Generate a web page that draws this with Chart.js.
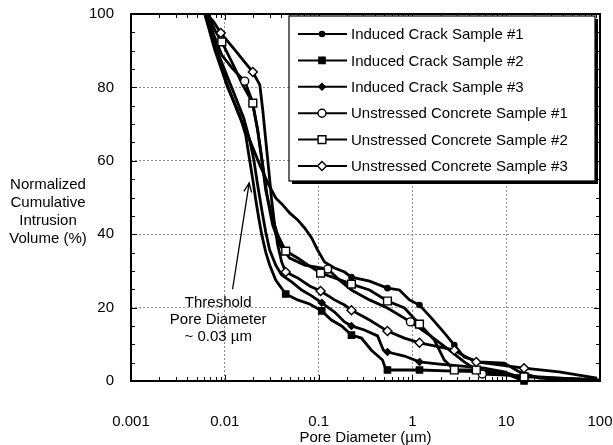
<!DOCTYPE html>
<html lang="en">
<head>
  <meta charset="UTF-8">
  <title>Pore Diameter Distribution</title>
  <script src="https://cdn.jsdelivr.net/npm/chart.js"></script>
  <style>
    html, body { margin: 0; padding: 0; background: #fff; }
  </style>
</head>
<body>
  <canvas id="poreChart" width="613" height="445"></canvas>

  <script>
    // pore diameter (um), normalized cumulative intrusion volume (%)
    const ic1 = [[0.00644,100],[0.00802,91.6],[0.0103,81.7],[0.0137,73.3],[0.0184,65.7],[0.0236,58.9],
      [0.0287,54.0],[0.0349,49.9],[0.0414,48.0],[0.0491,45.8],[0.0598,43.9],[0.0710,41.7],[0.0843,39.0],
      [0.0975,35.7],[0.116,32.4],[0.148,30.8],[0.189,29.7],[0.224,28.3],[0.349,27.2],[0.542,25.3],
      [0.728,24.8],[0.93,22.1],[1.19,20.7],[1.59,17.2],[2.19,13.1],[2.80,9.8],[3.57,6.5],[5.16,5.2],
      [9.52,4.9],[13.7,2.5],[22.4,0.8],[45,0.3]];
    const ic2 = [[0.00612,100],[0.00783,90.2],[0.0108,79.8],[0.0144,72.5],[0.0167,67.0],[0.0184,60.2],
      [0.0199,54.8],[0.0214,49.3],[0.0230,44.4],[0.0248,39.8],[0.0273,35.1],[0.0301,31.6],[0.0349,27.5],
      [0.0446,23.7],[0.0598,22.1],[0.0802,21.0],[0.108,19.1],[0.137,16.6],[0.176,15.0],[0.224,12.5],
      [0.286,11.7],[0.366,8.4],[0.480,5.7],[0.516,3.5],[0.542,3.0],[1.19,3.0],[2.80,2.7],[6.59,2.5],
      [10.8,1.6],[15.5,0]];
    const ic3 = [[0.00628,100],[0.00822,90.2],[0.0119,79.8],[0.0159,71.7],[0.0184,65.7],[0.0204,60.2],
      [0.0224,53.4],[0.0248,46.6],[0.0273,40.6],[0.0301,35.7],[0.0349,31.6],[0.0404,28.9],[0.0516,27.0],
      [0.0660,24.8],[0.0843,23.2],[0.108,21.3],[0.148,18.8],[0.189,16.1],[0.224,15.0],[0.308,13.9],
      [0.425,12.3],[0.491,8.4],[0.542,7.9],[0.822,6.8],[1.19,5.2],[1.94,4.6],[3.16,4.1],[5.83,3.5],
      [9.52,2.5],[17.6,0]];
    const uc1 = [[0.00628,100],[0.00764,94.3],[0.00929,88.8],[0.0119,85.3],[0.0163,81.7],[0.0194,76.6],
      [0.0224,68.4],[0.0254,58.9],[0.0287,49.3],[0.0324,42.5],[0.0385,37.1],[0.0491,33.5],[0.0710,31.6],
      [0.125,30.5],[0.167,27.5],[0.224,24.8],[0.349,22.1],[0.542,19.9],[0.953,16.1],[1.52,12.5],
      [2.48,8.4],[3.57,5.2],[5.56,1.9],[15.5,1.4],[36.6,0.8],[92.9,0.3]];
    const uc2 = [[0.00659,100],[0.00783,95.6],[0.00929,92.4],[0.0119,86.9],[0.0155,80.7],[0.0199,75.7],
      [0.0224,68.4],[0.0248,60.2],[0.0273,52.0],[0.0316,45.2],[0.0366,39.8],[0.0446,35.4],[0.0598,33.5],
      [0.0802,31.3],[0.105,29.4],[0.148,28.1],[0.224,26.4],[0.349,24.8],[0.542,21.8],[0.822,19.9],
      [1.19,15.5],[1.71,11.2],[2.19,5.7],[2.80,3.0],[4.80,3.0],[8.43,2.2],[15.5,1.1],[36.6,0.8],[97.5,0.3]];
    const uc3 = [[0.00644,100],[0.00764,97.8],[0.00906,94.8],[0.0128,90.2],[0.0163,86.9],[0.0199,84.2],
      [0.0236,80.7],[0.0254,73.8],[0.0273,65.7],[0.0294,57.5],[0.0316,49.3],[0.0340,42.5],[0.0366,37.1],
      [0.0404,32.4],[0.0446,29.7],[0.0598,28.1],[0.0802,25.9],[0.105,24.5],[0.148,22.1],[0.189,20.7],
      [0.224,19.3],[0.349,16.6],[0.542,13.6],[0.822,11.7],[1.19,10.4],[1.94,9.3],[2.80,8.4],[3.57,6.8],
      [4.80,5.2],[8.43,4.4],[15.5,3.5],[36.6,2.5],[92.9,0.8]];

    // which points carry a marker
    const ic1Marks = [17, 19, 22, 25];
    const ic2Marks = [13, 16, 19, 24, 25, 29];
    const ic3Marks = [15, 18, 22, 24];
    const uc1Marks = [4, 13, 18, 22, 23];
    const uc2Marks = [2, 5, 11, 14, 16, 18, 20, 23, 24, 26];
    const uc3Marks = [2, 5, 14, 17, 20, 22, 24, 26, 28, 30];

    const seriesNames = ['Induced Crack Sample #1', 'Induced Crack Sample #2', 'Induced Crack Sample #3',
      'Unstressed Concrete Sample #1', 'Unstressed Concrete Sample #2', 'Unstressed Concrete Sample #3'];
    const xTicks = [0.001, 0.01, 0.1, 1, 10, 100];
    const yTicks = [0, 20, 40, 60, 80, 100];
    const yTitle = ['Normalized', 'Cumulative', 'Intrusion', 'Volume (%)'];
    const noteLines = ['Threshold', 'Pore Diameter', '~ 0.03 \u00b5m'];

    const FONT = '15px "Liberation Sans", Arial, sans-serif';

    // marker look per series: shape, size, filled
    const looks = [
      { shape: 'circle', r: 2.6, filled: true },
      { shape: 'rect', r: 4.4, filled: true },
      { shape: 'diamond', r: 3.3, filled: true },
      { shape: 'circle', r: 4, filled: false },
      { shape: 'rect', r: 5.5, filled: false },
      { shape: 'diamond', r: 4.5, filled: false }
    ];

    const allSeries = [ic1, ic2, ic3, uc1, uc2, uc3];
    const allMarks = [ic1Marks, ic2Marks, ic3Marks, uc1Marks, uc2Marks, uc3Marks];

    function drawMarker(ctx, look, x, y) {
      const r = look.r;
      ctx.beginPath();
      if (look.shape === 'circle') {
        ctx.arc(x, y, r, 0, Math.PI * 2);
      } else if (look.shape === 'rect') {
        const s = r * Math.SQRT1_2;
        ctx.rect(x - s, y - s, 2 * s, 2 * s);
      } else {
        ctx.moveTo(x, y - r); ctx.lineTo(x + r, y); ctx.lineTo(x, y + r); ctx.lineTo(x - r, y);
        ctx.closePath();
      }
      ctx.fillStyle = look.filled ? '#000' : '#fff';
      ctx.fill();
      ctx.lineWidth = 1.4;
      ctx.strokeStyle = '#000';
      ctx.stroke();
    }

    // marker plugin: draws the sparse markers on top of the lines
    const markerPlugin = {
      id: 'markers',
      afterDatasetsDraw(chart) {
        const ctx = chart.ctx;
        ctx.save();
        chart.data.datasets.forEach((ds, i) => {
          const meta = chart.getDatasetMeta(i);
          allMarks[i].forEach(idx => {
            const el = meta.data[idx];
            if (el) drawMarker(ctx, looks[i], el.x, el.y);
          });
        });
        ctx.restore();
      }
    };

    // frame, inner ticks, legend, note and y title
    const framePlugin = {
      id: 'frame',
      afterDraw(chart) {
        const { ctx, chartArea: a, scales: { x, y } } = chart;
        ctx.save();
        ctx.strokeStyle = '#000';
        ctx.lineWidth = 1;
        ctx.beginPath();
        for (let e = -3; e < 2; e++) {
          for (let m = 1; m < 10; m++) {
            const px = Math.round(x.getPixelForValue(m * Math.pow(10, e))) + 0.5;
            const len = m === 1 ? 6 : 4;
            ctx.moveTo(px, a.bottom); ctx.lineTo(px, a.bottom - len);
            ctx.moveTo(px, a.top); ctx.lineTo(px, a.top + len);
          }
        }
        for (let v = 5; v < 100; v += 5) {
          const py = Math.round(y.getPixelForValue(v)) + 0.5;
          const len = v % 20 === 0 ? 6 : 4;
          ctx.moveTo(a.left, py); ctx.lineTo(a.left + len, py);
          ctx.moveTo(a.right, py); ctx.lineTo(a.right - len, py);
        }
        ctx.stroke();
        ctx.lineWidth = 2;
        ctx.strokeRect(a.left, a.top, a.width, a.height);

        // legend box
        const lx = 289, ly = 16, lw = 306, lh = 165;
        ctx.fillStyle = '#000';
        ctx.fillRect(lx + 3, ly + 3, lw, lh);
        ctx.fillStyle = '#fff';
        ctx.fillRect(lx, ly, lw, lh);
        ctx.lineWidth = 1.2;
        ctx.strokeRect(lx, ly, lw, lh);
        ctx.font = FONT;
        ctx.textBaseline = 'middle';
        ctx.textAlign = 'left';
        seriesNames.forEach((name, i) => {
          const ry = 34 + i * 26.4;
          ctx.beginPath();
          ctx.moveTo(298, ry); ctx.lineTo(347, ry);
          ctx.lineWidth = 2;
          ctx.strokeStyle = '#000';
          ctx.stroke();
          drawMarker(ctx, looks[i], 322, ry);
          ctx.fillStyle = '#000';
          ctx.fillText(name, 351, ry + 1);
        });

        // threshold note with arrow
        ctx.textAlign = 'center';
        ctx.fillStyle = '#000';
        const nx = x.getPixelForValue(0.0085);
        const ny = y.getPixelForValue(21.3);
        noteLines.forEach((t, i) => ctx.fillText(t, nx, ny + i * 17));
        const tx = x.getPixelForValue(0.0121), ty = y.getPixelForValue(25);
        const hx = x.getPixelForValue(0.0182), hy = y.getPixelForValue(54);
        const ang = Math.atan2(hy - ty, hx - tx);
        ctx.beginPath();
        ctx.moveTo(tx, ty); ctx.lineTo(hx, hy);
        ctx.moveTo(hx - 10 * Math.cos(ang - 0.4), hy - 10 * Math.sin(ang - 0.4));
        ctx.lineTo(hx, hy);
        ctx.lineTo(hx - 10 * Math.cos(ang + 0.4), hy - 10 * Math.sin(ang + 0.4));
        ctx.lineWidth = 1.3;
        ctx.strokeStyle = '#000';
        ctx.stroke();

        // y axis title, horizontal lines
        yTitle.forEach((t, i) => ctx.fillText(t, 48, 185 + i * 18));
        ctx.restore();
      }
    };

    const isDecade = v => Math.abs(Math.log10(v) - Math.round(Math.log10(v))) < 1e-6;

    new Chart(document.getElementById('poreChart'), {
      type: 'scatter',
      data: {
        datasets: allSeries.map((s, i) => ({
          label: seriesNames[i],
          data: s.map(p => ({ x: p[0], y: p[1] })),
          showLine: true,
          borderColor: '#000',
          borderWidth: 2.8,
          pointRadius: 0,
          pointHoverRadius: 0,
          tension: 0,
          clip: false
        }))
      },
      options: {
        responsive: false,
        animation: false,
        layout: { padding: { top: 14, right: 13, left: 0, bottom: 0 } },
        plugins: { legend: { display: false }, tooltip: { enabled: false } },
        scales: {
          x: {
            type: 'logarithmic',
            min: xTicks[0],
            max: xTicks[xTicks.length - 1],
            afterFit: s => { s.height = 64; s.paddingLeft = 0; s.paddingRight = 0; },
            grid: {
              drawTicks: false,
              color: c => (c.tick && isDecade(c.tick.value) && c.tick.value > 0.001 && c.tick.value < 100) ? '#8c8c8c' : 'rgba(0,0,0,0)',
              lineWidth: 1
            },
            border: { display: false, dash: [2, 2] },
            ticks: {
              autoSkip: false,
              maxRotation: 0,
              padding: 32,
              color: '#000',
              font: { family: '"Liberation Sans", Arial, sans-serif', size: 15 },
              callback: v => (xTicks.some(t => Math.abs(t - v) / t < 1e-6) ? String(v) : '')
            },
            title: {
              display: true,
              text: 'Pore Diameter (\u00b5m)',
              color: '#000',
              font: { family: '"Liberation Sans", Arial, sans-serif', size: 15 },
              padding: { top: 0, bottom: -2 }
            }
          },
          y: {
            min: 0,
            max: 100,
            afterFit: s => { s.width = 131; s.paddingTop = 0; s.paddingBottom = 0; },
            grid: {
              drawTicks: false,
              color: c => (c.tick && c.tick.value > 0 && c.tick.value < 100) ? '#8c8c8c' : 'rgba(0,0,0,0)',
              lineWidth: 1
            },
            border: { display: false, dash: [2, 2] },
            afterBuildTicks: s => { s.ticks = yTicks.map(v => ({ value: v })); },
            ticks: {
              padding: 17,
              color: '#000',
              font: { family: '"Liberation Sans", Arial, sans-serif', size: 15 }
            }
          }
        }
      },
      plugins: [markerPlugin, framePlugin]
    });
  </script>
</body>
</html>
